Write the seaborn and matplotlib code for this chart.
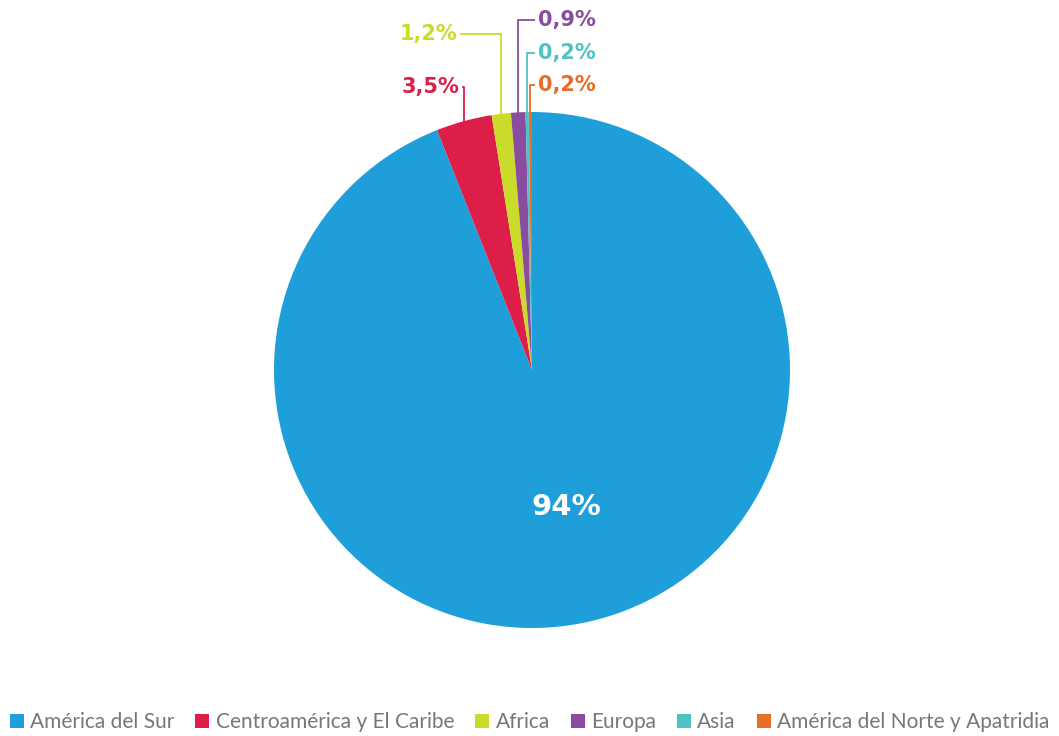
import numpy as np
import matplotlib
matplotlib.use('Agg')
import matplotlib.pyplot as plt
import seaborn as sns
from matplotlib.patches import Patch

sns.set_style("white")
plt.rcParams['font.family'] = ['DejaVu Sans']

# Data
regions = ['América del Sur', 'Centroamérica y El Caribe', 'Africa', 'Europa', 'Asia',
           'América del Norte y Apatridia']
shares = [94.0, 3.5, 1.2, 0.9, 0.2, 0.2]
share_labels = ['94%', '3,5%', '1,2%', '0,9%', '0,2%', '0,2%']
colors = ['#1E9FD9', '#DC1E48', '#CADB2A', '#8A4C9E', '#4EC3C6', '#E86D27']

W, H = 1059, 736
fig = plt.figure(figsize=(W / 100, H / 100), dpi=100)
ax = fig.add_axes([0, 0, 1, 1])

cx, cy, r = 532, H - 370, 258
wedges, _ = ax.pie(shares, colors=colors, startangle=90, counterclock=False,
                   center=(cx, cy), radius=r, wedgeprops=dict(linewidth=0))
ax.set_aspect('auto')
ax.set_xlim(0, W)
ax.set_ylim(0, H)
ax.axis('off')

# big label inside
ax.text(cx + 34, H - 507, share_labels[0], color='white', fontsize=21, fontweight='bold',
        ha='center', va='center')

# small labels with elbow leader lines (label y, side)
label_y = [None, H - 87, H - 34, H - 20, H - 53, H - 85]
side = [None, 'left', 'left', 'right', 'right', 'right']
for i in range(1, len(shares)):
    w = wedges[i]
    ang = np.deg2rad((w.theta1 + w.theta2) / 2)
    ex = cx + r * np.cos(ang)
    ey = cy + r * np.sin(ang) - 4
    ly = label_y[i]
    if side[i] == 'left':
        tx = 459 if i == 1 else 457
        ax.plot([ex, ex, tx + 3], [ey, ly, ly], color=colors[i], lw=1.3, solid_capstyle='butt')
        ax.text(tx, ly, share_labels[i], color=colors[i], fontsize=15, fontweight='bold',
                ha='right', va='center')
    else:
        tx = 538
        ax.plot([ex, ex, tx - 3], [ey, ly, ly], color=colors[i], lw=1.3, solid_capstyle='butt')
        ax.text(tx, ly, share_labels[i], color=colors[i], fontsize=15, fontweight='bold',
                ha='left', va='center')

handles = [Patch(facecolor=c, edgecolor='none') for c in colors]
fig.legend(handles, regions, loc='lower center', bbox_to_anchor=(0.5, -0.02), ncol=6,
           frameon=False, handlelength=0.68, handleheight=0.68, handletextpad=0.3,
           columnspacing=1.0, labelcolor='#777777',
           prop={'family': ['Lato', 'DejaVu Sans'], 'size': 15})

fig.savefig('out.png', dpi=100)
